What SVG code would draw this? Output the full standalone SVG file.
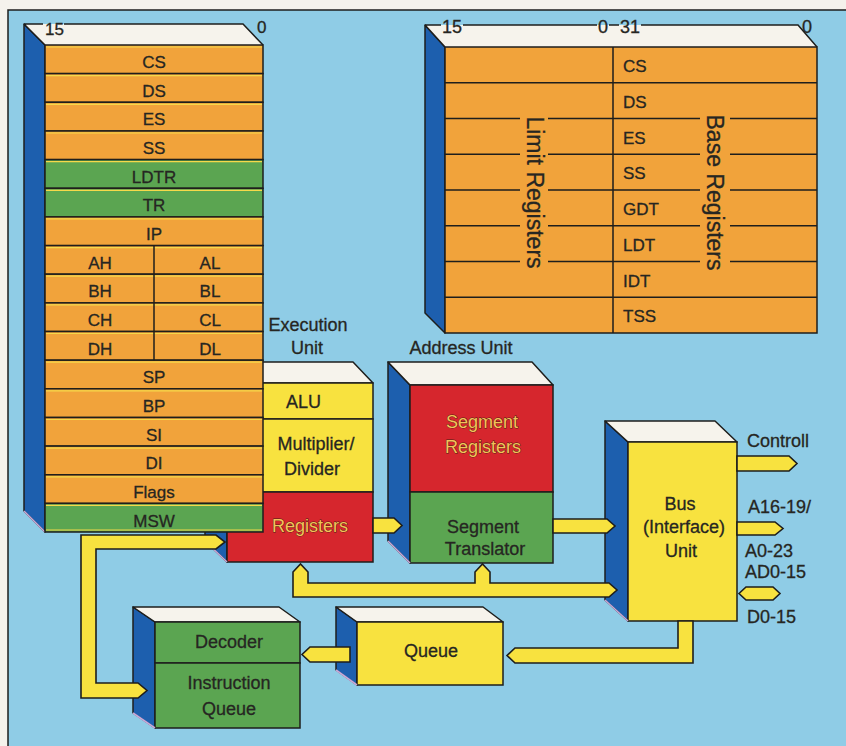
<svg xmlns="http://www.w3.org/2000/svg" width="846" height="746" viewBox="0 0 846 746">
<style>
.t{font-family:"Liberation Sans",Arial,sans-serif;font-size:18px;fill:#262622;stroke:#262622;stroke-width:0.3}
.s{font-size:17px}
.m{text-anchor:middle}
.v{font-size:23px}
.ln{stroke:#1e1e1c;stroke-width:1.5;fill:none}
.side{fill:#1d5fae;stroke:#1e1e1c;stroke-width:1.5;stroke-linejoin:round}
.top{fill:#f6f3ec;stroke:#1e1e1c;stroke-width:1.5;stroke-linejoin:round}
.topf{fill:#f6f3ec}
.or{fill:#f1a33b;stroke:#1e1e1c;stroke-width:1.5}
.gr{fill:#5ba551;stroke:#1e1e1c;stroke-width:1.5}
.ye{fill:#f8e23f;stroke:#1e1e1c;stroke-width:1.5}
.re{fill:#d6262d;stroke:#1e1e1c;stroke-width:1.5}
.hl{stroke:#f6d94a;stroke-width:1.2;fill:none}
.lv{stroke:#c8a9d9;stroke-width:1.6;fill:none}
.bus{fill:#f8e23f;stroke:#1e1e1c;stroke-width:1.6;stroke-linejoin:miter}
.rt{fill:#f3c25a;stroke:#4a2010;stroke-width:0.8;paint-order:stroke}
</style>

<rect x="0" y="0" width="846" height="746" fill="#f5f2ec"/>
<rect x="8" y="10" width="846" height="746" fill="#8fcce6"/>
<path d="M8,746 V10 H846" class="ln"/>

<!-- Limit / Base registers block -->
<g id="descriptor-registers">
  <polygon points="425,25 445,47 445,333 425,313" class="side"/>
  <polygon points="425,25 798,25 817,47 445,47" class="topf"/>
  <path d="M425,25 H441 M463,25 H597 M609,25 H619 M641,25 H798 L817,47 M425,25 L445,47" class="ln"/>
  <rect x="445" y="47" width="372" height="286" class="or"/>
  <path d="M445,82.8 H817 M445,118.5 H817 M445,154.3 H817 M445,190 H817 M445,225.8 H817 M445,261.5 H817 M445,297.3 H817 M613,47 V333" class="ln"/>
  <rect x="520" y="112" width="28" height="162" fill="#f1a33b"/>
  <rect x="700" y="112" width="30" height="162" fill="#f1a33b"/>
  <text class="t" x="442" y="33">15</text>
  <text class="t" x="598" y="33">0</text>
  <text class="t" x="620" y="33">31</text>
  <text class="t" x="802" y="33">0</text>
  <text class="t s" x="623" y="72">CS</text>
  <text class="t s" x="623" y="107.8">DS</text>
  <text class="t s" x="623" y="143.5">ES</text>
  <text class="t s" x="623" y="179.3">SS</text>
  <text class="t s" x="623" y="215">GDT</text>
  <text class="t s" x="623" y="250.8">LDT</text>
  <text class="t s" x="623" y="286.5">IDT</text>
  <text class="t s" x="623" y="322.3">TSS</text>
  <text class="t v m" transform="translate(527,192.5) rotate(90)">Limit Registers</text>
  <text class="t v m" transform="translate(707,192.5) rotate(90)">Base Registers</text>
</g>

<!-- Execution unit -->
<g id="execution-unit">
  <polygon points="205,362 227,383 227,562 205,541" class="side"/>
  <polygon points="205,362 353,362 373,383 227,383" class="top"/>
  <rect x="227" y="383" width="146" height="36" class="ye"/>
  <rect x="227" y="419" width="146" height="73" class="ye"/>
  <rect x="227" y="492" width="146" height="70" class="re"/>
  <line x1="205" y1="541" x2="227" y2="562" class="lv"/>
  <text class="t m" x="308" y="331">Execution</text>
  <text class="t m" x="307" y="354">Unit</text>
  <text class="t" x="286" y="408">ALU</text>
  <text class="t m" x="316" y="450">Multiplier/</text>
  <text class="t m" x="312" y="475">Divider</text>
  <text class="t m rt" x="310" y="532">Registers</text>
</g>

<!-- Main register stack -->
<g id="register-file">
  <polygon points="24,24 45,45 45,532 24,511" class="side"/>
  <line x1="24" y1="511" x2="45" y2="532" class="lv"/>
  <polygon points="24,24 243,24 263,45 45,45" class="topf"/>
  <path d="M24,24 H43 M64,24 H243 L263,45 M24,24 L45,45" class="ln"/>
  <rect x="45" y="45" width="218" height="28.6" class="or"/>
  <rect x="45" y="73.6" width="218" height="28.7" class="or"/>
  <rect x="45" y="102.3" width="218" height="28.7" class="or"/>
  <rect x="45" y="131" width="218" height="28.6" class="or"/>
  <rect x="45" y="159.6" width="218" height="28.7" class="gr"/>
  <rect x="45" y="188.3" width="218" height="28.6" class="gr"/>
  <rect x="45" y="216.9" width="218" height="28.7" class="or"/>
  <rect x="45" y="245.6" width="218" height="28.6" class="or"/>
  <rect x="45" y="274.2" width="218" height="28.7" class="or"/>
  <rect x="45" y="302.9" width="218" height="28.6" class="or"/>
  <rect x="45" y="331.5" width="218" height="28.7" class="or"/>
  <rect x="45" y="360.2" width="218" height="28.6" class="or"/>
  <rect x="45" y="388.8" width="218" height="28.7" class="or"/>
  <rect x="45" y="417.5" width="218" height="28.6" class="or"/>
  <rect x="45" y="446.1" width="218" height="28.7" class="or"/>
  <rect x="45" y="474.8" width="218" height="28.6" class="or"/>
  <rect x="45" y="503.4" width="218" height="28.6" class="gr"/>
  <path d="M46,47 H262 M46,75.6 H262 M46,104.3 H262 M46,133 H262 M46,161.6 H262 M46,190.3 H262 M46,218.9 H262 M46,247.6 H262 M46,276.2 H262 M46,304.9 H262 M46,333.5 H262 M46,362.2 H262 M46,390.8 H262 M46,419.5 H262 M46,448.1 H262 M46,476.8 H262 M46,505.4 H262 M46,530 H262" class="hl"/>
  <line x1="154" y1="245.6" x2="154" y2="360.2" class="ln"/>
  <text class="t s" x="45" y="35">15</text>
  <text class="t s" x="257" y="33">0</text>
  <text class="t s m" x="154" y="68">CS</text>
  <text class="t s m" x="154" y="96.6">DS</text>
  <text class="t s m" x="154" y="125.3">ES</text>
  <text class="t s m" x="154" y="154">SS</text>
  <text class="t s m" x="154" y="182.6">LDTR</text>
  <text class="t s m" x="154" y="211.3">TR</text>
  <text class="t s m" x="154" y="239.9">IP</text>
  <text class="t s m" x="100" y="268.6">AH</text>
  <text class="t s m" x="210" y="268.6">AL</text>
  <text class="t s m" x="100" y="297.2">BH</text>
  <text class="t s m" x="210" y="297.2">BL</text>
  <text class="t s m" x="100" y="325.9">CH</text>
  <text class="t s m" x="210" y="325.9">CL</text>
  <text class="t s m" x="100" y="354.5">DH</text>
  <text class="t s m" x="210" y="354.5">DL</text>
  <text class="t s m" x="154" y="383.2">SP</text>
  <text class="t s m" x="154" y="411.8">BP</text>
  <text class="t s m" x="154" y="440.5">SI</text>
  <text class="t s m" x="154" y="469.1">DI</text>
  <text class="t s m" x="154" y="497.8">Flags</text>
  <text class="t s m" x="154" y="527">MSW</text>
</g>

<!-- Address unit -->
<g id="address-unit">
  <polygon points="388,362 410,385 410,563 388,541" class="side"/>
  <polygon points="388,362 532,362 553,385 410,385" class="top"/>
  <rect x="410" y="385" width="143" height="107" class="re"/>
  <rect x="410" y="492" width="143" height="71" class="gr"/>
  <line x1="388" y1="541" x2="410" y2="563" class="lv"/>
  <text class="t m" x="461" y="354">Address Unit</text>
  <text class="t m rt" x="482" y="428">Segment</text>
  <text class="t m rt" x="483" y="453">Registers</text>
  <text class="t m" x="483" y="533">Segment</text>
  <text class="t m" x="485" y="555">Translator</text>
</g>

<!-- Bus interface unit -->
<g id="bus-unit">
  <polygon points="605,421 628,442 628,621 605,600" class="side"/>
  <polygon points="605,421 715,421 737,442 628,442" class="top"/>
  <rect x="628" y="442" width="109" height="179" class="ye"/>
  <line x1="605" y1="600" x2="628" y2="621" class="lv"/>
  <text class="t m" x="680" y="510">Bus</text>
  <text class="t m" x="684" y="533">(Interface)</text>
  <text class="t m" x="681" y="557">Unit</text>
  <text class="t" x="747" y="447">Controll</text>
  <text class="t" x="748" y="513">A16-19/</text>
  <text class="t" x="745" y="557">A0-23</text>
  <text class="t" x="745" y="578">AD0-15</text>
  <text class="t" x="747" y="623">D0-15</text>
</g>

<!-- Queue -->
<g id="queue">
  <polygon points="336,607 357,622 357,685 336,670" class="side"/>
  <polygon points="336,607 483,607 503,622 357,622" class="top"/>
  <rect x="357" y="622" width="146" height="63" class="ye"/>
  <line x1="336" y1="670" x2="357" y2="685" class="lv"/>
  <text class="t m" x="431" y="657">Queue</text>
</g>

<!-- Decoder / Instruction queue -->
<g id="decoder">
  <polygon points="133,607 155,622 155,728 133,713" class="side"/>
  <polygon points="133,607 279,607 300,622 155,622" class="top"/>
  <rect x="155" y="622" width="145" height="41" class="gr"/>
  <rect x="155" y="663" width="145" height="65" class="gr"/>
  <line x1="133" y1="713" x2="155" y2="728" class="lv"/>
  <text class="t m" x="229" y="648">Decoder</text>
  <text class="t m" x="229" y="689">Instruction</text>
  <text class="t m" x="229" y="715">Queue</text>
</g>

<!-- Connectors -->
<g id="connectors">
  <polygon points="81,535 216,535 225,542 216,549 96,549 96,683 138,683 147,690.5 138,698 81,698" class="bus"/>
  <polygon points="373,518 394,518 402,525.5 394,533 373,533" class="bus"/>
  <polygon points="553,519 607,519 615,526 607,533 553,533" class="bus"/>
  <polygon points="293,597 293,572 300.5,564 308,572 308,583 475,583 475,572 482.5,564 490,572 490,583 609,583 617,590 609,597" class="bus"/>
  <polygon points="693,621 693,663 515,663 507,655.5 515,648 678,648 678,621" class="bus"/>
  <polygon points="350,647 310,647 302,654.5 310,662 350,662" class="bus"/>
  <polygon points="737,456 789,456 797,463.5 789,471 737,471" class="bus"/>
  <polygon points="737,522 775,522 783,528.5 775,535 737,535" class="bus"/>
  <polygon points="739,593.5 746,587 773,587 780,593.5 773,600 746,600" class="bus"/>
</g>
</svg>
